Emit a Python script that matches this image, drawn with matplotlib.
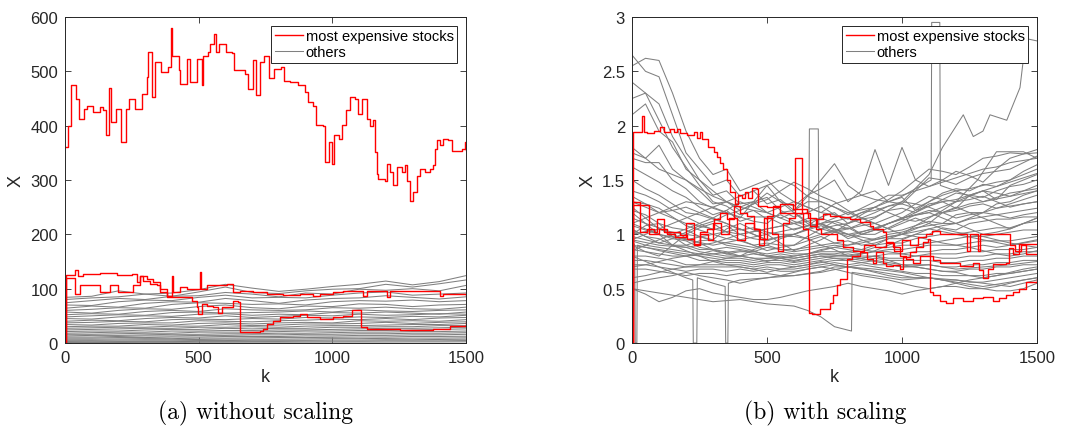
import numpy as np
import matplotlib
matplotlib.use('Agg')
import matplotlib.pyplot as plt

plt.rcParams['font.family'] = ['Liberation Sans', 'DejaVu Sans']

# grids for the grey curves
k_grid = [0, 100, 200, 300, 400, 500, 600, 700, 800, 900, 1000, 1100, 1200, 1300, 1400, 1500]
k_grid50 = [0, 50, 100, 150, 200, 250, 300, 350, 400, 450, 500, 550, 600, 650, 700, 750,
            800, 850, 900, 950, 1000, 1050, 1100, 1150, 1200, 1250, 1300, 1350, 1400, 1450, 1500]

# ---------------- (a) without scaling ----------------
a_red1_k = [0, 10, 24, 40, 52, 70, 82, 106, 130, 143, 155, 163, 173, 191, 209, 221, 227, 239,
            263, 287, 306, 309, 324, 336, 360, 384, 396, 402, 426, 432, 457, 469, 493, 511, 517,
            535, 541, 559, 565, 577, 601, 626, 632, 650, 674, 686, 704, 716, 728, 746, 764, 783,
            807, 819, 843, 873, 897, 909, 928, 940, 964, 973, 988, 998, 1006, 1024, 1036, 1052,
            1066, 1085, 1097, 1110, 1128, 1141, 1153, 1160, 1166, 1172, 1197, 1203, 1216, 1228,
            1241, 1259, 1272, 1278, 1291, 1303, 1316, 1328, 1347, 1366, 1378, 1384, 1390, 1403,
            1415, 1434, 1446, 1471, 1484, 1496, 1500]
a_red1_v = [361, 400, 474, 450, 413, 431, 437, 425, 434, 428, 382, 469, 407, 431, 370, 370, 431, 450,
            431, 459, 490, 536, 453, 517, 499, 508, 579, 529, 502, 477, 523, 480, 523, 474, 529,
            536, 551, 569, 536, 551, 536, 533, 502, 502, 496, 468, 520, 456, 517, 529, 487, 505,
            508, 483, 480, 474, 462, 444, 437, 401, 399, 333, 370, 330, 382, 376, 401, 428,
            452, 450, 422, 450, 413, 400, 410, 351, 311, 302, 299, 330, 314, 290,
            324, 314, 327, 299, 262, 277, 308, 320, 314, 320, 327, 357, 373, 364,
            376, 373, 354, 354, 357, 370, 355]

a_red2_k = [0, 3, 37, 50, 69, 131, 193, 249, 268, 281, 293, 318, 343, 355, 380, 399, 405, 430,
            455, 480, 505, 508, 530, 567, 605, 630, 655, 704, 754, 817, 879, 929, 954, 1004,
            1041, 1103, 1116, 1128, 1191, 1203, 1216, 1316, 1391, 1403, 1415, 1500]
a_red2_v = [0, 125, 135, 124, 127, 129, 125, 127, 112, 123, 115, 109, 106, 93, 87, 124, 93, 103,
            100, 100, 130, 100, 106, 106, 109, 93, 95, 93, 90, 88, 90, 87, 90, 93,
            96, 96, 87, 96, 96, 84, 96, 96, 96, 87, 90, 88]

a_red3_k = [0, 3, 37, 56, 106, 131, 168, 200, 231, 256, 281, 305, 330, 355, 380, 405, 455, 474,
            492, 499, 511, 530, 555, 574, 586, 605, 630, 648, 655, 729, 742, 754, 779, 804,
            854, 879, 904, 954, 1004, 1041, 1072, 1103, 1106, 1128, 1253, 1378, 1440, 1500]
a_red3_v = [0, 120, 90, 106, 106, 93, 106, 93, 93, 106, 124, 118, 112, 100, 84, 84, 84, 78,
            66, 53, 72, 69, 66, 56, 66, 66, 78, 75, 20, 23, 26, 35, 41, 47,
            50, 53, 47, 44, 47, 50, 60, 60, 29, 26, 24, 26, 32, 38]

a_grey = [
    [84, 86, 96, 90, 92, 98, 108, 101, 95, 99, 104, 108, 114, 107, 113, 124],
    [80, 83, 85, 90, 86, 94, 103, 93, 91, 96, 99, 100, 108, 103, 109, 116],
    [74, 78, 82, 80, 86, 87, 93, 90, 85, 92, 90, 99, 97, 100, 96, 106],
    [70, 69, 76, 79, 78, 84, 88, 83, 84, 83, 88, 92, 94, 88, 90, 92],
    [64, 68, 66, 73, 76, 75, 82, 78, 73, 79, 82, 83, 87, 84, 81, 85],
    [60, 62, 65, 64, 71, 74, 73, 71, 72, 70, 76, 78, 77, 79, 76, 78],
    [57, 55, 60, 63, 62, 67, 70, 65, 63, 68, 67, 72, 71, 67, 70, 71],
    [52, 54, 53, 58, 60, 58, 63, 61, 60, 61, 65, 64, 66, 63, 62, 66],
    [48, 50, 52, 51, 56, 57, 55, 56, 57, 59, 57, 61, 59, 58, 60, 61],
    [45, 44, 48, 50, 49, 53, 54, 51, 53, 52, 56, 55, 57, 55, 53, 57],
    [40, 42, 41, 45, 47, 46, 50, 47, 49, 51, 50, 53, 51, 52, 54, 53],
    [37, 38, 40, 39, 43, 44, 43, 45, 44, 47, 46, 48, 47, 49, 48, 51],
    [34, 33, 36, 37, 37, 41, 40, 39, 41, 42, 44, 43, 45, 43, 46, 47],
    [30, 31, 31, 34, 33, 36, 37, 35, 37, 38, 37, 41, 40, 41, 40, 43],
    [27, 28, 29, 29, 31, 31, 34, 32, 33, 35, 35, 36, 38, 36, 38, 39],
    [24, 25, 26, 27, 27, 29, 29, 30, 29, 31, 32, 32, 33, 34, 34, 36],
    [21, 22, 22, 24, 25, 25, 27, 26, 27, 27, 29, 29, 30, 30, 32, 32],
    [18, 19, 20, 20, 22, 22, 23, 23, 24, 24, 25, 26, 27, 27, 28, 29],
    [16, 16, 17, 18, 18, 20, 20, 20, 21, 22, 22, 23, 23, 24, 25, 26],
    [13, 14, 14, 15, 16, 16, 17, 17, 18, 18, 19, 20, 20, 21, 21, 22],
    [11, 11, 12, 13, 13, 14, 14, 15, 15, 16, 16, 17, 17, 18, 18, 19],
    [9, 9, 10, 10, 11, 11, 12, 12, 12, 13, 13, 14, 14, 15, 15, 16],
    [7, 7, 7.5, 8, 8, 9, 9, 9.5, 10, 10, 10.5, 11, 11, 12, 12, 12.5],
    [5, 5, 5.5, 6, 6, 6.5, 7, 7, 7, 7.5, 8, 8, 8.5, 9, 9, 9.5],
    [3, 3.5, 3.5, 4, 4, 4.5, 4.5, 5, 5, 5, 5.5, 5.5, 6, 6, 6.5, 7],
    [2, 2, 2.5, 2.5, 2.5, 3, 3, 3, 3, 3.5, 3.5, 3.5, 4, 4, 4, 4.5],
    [1, 1, 1, 1.2, 1.2, 1.3, 1.4, 1.5, 1.5, 1.6, 1.7, 1.8, 1.8, 2, 2, 2.2],
]

# ---------------- (b) with scaling ----------------
b_red1_k = [0, 4, 31, 37, 43, 55, 80, 105, 117, 142, 154, 166, 179, 203, 228, 240, 253, 259,
            283, 302, 314, 327, 336, 351, 363, 382, 394, 407, 419, 431, 443, 462, 468, 499,
            548, 598, 647, 659, 684, 708, 733, 770, 807, 844, 881, 893, 930, 942, 967, 992,
            1016, 1041, 1066, 1115, 1140, 1214, 1263, 1287, 1299, 1318, 1337, 1386, 1398,
            1411, 1435, 1500]
b_red1_v = [0, 1.94, 1.94, 2.09, 1.94, 1.93, 1.95, 1.99, 1.94, 1.97, 1.94, 1.97, 1.93, 1.91, 1.94, 1.89, 1.94, 1.88,
            1.80, 1.76, 1.71, 1.66, 1.60, 1.50, 1.39, 1.28, 1.36, 1.33, 1.39, 1.33, 1.43, 1.42, 1.26, 1.25,
            1.28, 1.23, 1.20, 1.08, 1.14, 1.19, 1.17, 1.16, 1.14, 1.11, 1.08, 1.05, 1.02, 0.93, 0.88, 0.80,
            0.77, 0.74, 0.80, 0.76, 0.74, 0.71, 0.74, 0.67, 0.60, 0.68, 0.73, 0.74, 0.87,
            0.82, 0.91, 0.91]

b_red2_k = [0, 5, 31, 55, 80, 92, 117, 154, 179, 203, 228, 253, 277, 302, 327, 351, 376, 400,
            425, 450, 474, 499, 524, 548, 598, 635, 653, 656, 665, 696, 733, 745, 758, 770,
            795, 813, 844, 869, 893, 905, 930, 942, 967, 992, 1004, 1029, 1053, 1078, 1097,
            1103, 1115, 1140, 1164, 1189, 1226, 1263, 1299, 1337, 1361, 1386, 1411, 1435,
            1460, 1500]
b_red2_v = [0, 1.30, 1.02, 1.05, 1.02, 1.14, 1.02, 1.02, 0.99, 0.96, 0.91, 1.02, 1.05, 1.14, 1.20, 1.14, 1.26, 1.20,
            1.17, 1.05, 0.96, 1.17, 1.26, 1.20, 1.20, 1.05, 0.96, 0.28, 0.27, 0.31, 0.37, 0.44, 0.53, 0.59,
            0.77, 0.80, 0.84, 0.77, 0.74, 0.84, 0.74, 0.71, 0.72, 0.68, 0.79, 0.84, 0.88, 0.93, 0.96,
            0.47, 0.44, 0.39, 0.37, 0.41, 0.39, 0.41, 0.42, 0.39, 0.41, 0.44, 0.47, 0.50,
            0.56, 0.59]

b_red3_k = [0, 4, 60, 62, 100, 130, 160, 200, 230, 250, 280, 300, 330, 360, 390, 420, 450, 470,
            490, 520, 540, 560, 580, 603, 628, 650, 680, 700, 740, 760, 780, 820, 860, 900,
            940, 970, 1000, 1030, 1060, 1090, 1110, 1140, 1200, 1240, 1250, 1280, 1290, 1330,
            1380, 1400, 1420, 1440, 1460, 1500]
b_red3_v = [0, 1.27, 1.27, 1.0, 1.05, 1.0, 0.98, 1.1, 0.9, 1.0, 0.95, 1.1, 1.0, 1.15, 0.95, 1.1, 1.05, 0.9,
            1.15, 1.0, 0.85, 1.1, 1.15, 1.7, 1.2, 1.15, 1.05, 1.0, 1.0, 0.95, 0.88, 0.85, 0.9, 0.88,
            0.92, 0.85, 0.95, 0.9, 0.98, 1.0, 1.03, 1.0, 1.0, 0.85, 1.0, 0.85, 1.0, 1.0,
            1.0, 0.9, 0.85, 0.9, 0.82, 0.82]

# grey curves of panel (b), sampled every 50 steps
b_grey = [
    [2.65, 2.5, 2.45, 2.1, 1.75, 1.6, 1.45, 1.5, 1.35, 1.4, 1.28, 1.32, 1.22, 1.3, 1.3, 1.25, 1.18, 1.24, 1.3, 1.36, 1.36, 1.4, 1.44, 1.5, 1.46, 1.52, 1.56, 1.58, 1.6, 1.66, 1.72],
    [2.55, 2.62, 2.6, 2.3, 1.95, 1.7, 1.55, 1.6, 1.4, 1.45, 1.5, 1.38, 1.3, 1.25, 1.2, 1.28, 1.32, 1.36, 1.4, 1.3, 1.28, 1.4, 1.52, 1.5, 1.58, 1.54, 1.48, 1.6, 1.7, 1.74, 1.78],
    [2.4, 2.3, 2.2, 1.9, 1.7, 1.5, 1.36, 1.4, 1.28, 1.3, 1.34, 1.22, 1.16, 1.2, 1.26, 1.18, 1.14, 1.2, 1.22, 1.26, 1.28, 1.24, 1.3, 1.38, 1.42, 1.4, 1.46, 1.44, 1.5, 1.58, 1.64],
    [2.25, 2.3, 2.05, 1.8, 1.62, 1.45, 1.3, 1.26, 1.18, 1.22, 1.14, 1.18, 1.12, 1.08, 1.16, 1.2, 1.1, 1.14, 1.16, 1.22, 1.24, 1.2, 1.26, 1.3, 1.32, 1.36, 1.34, 1.4, 1.44, 1.46, 1.5],
    [2.1, 2.2, 1.95, 1.85, 1.6, 1.5, 1.4, 1.3, 1.25, 1.3, 1.2, 1.15, 1.2, 1.1, 1.05, 1.12, 1.08, 1.0, 1.04, 1.1, 1.14, 1.2, 1.28, 1.3, 1.24, 1.36, 1.4, 1.32, 1.45, 1.5, 1.55],
    [1.75, 1.7, 1.82, 1.6, 1.5, 1.4, 1.28, 1.3, 1.22, 1.28, 1.38, 1.3, 1.26, 1.36, 1.42, 1.5, 1.3, 1.4, 1.78, 1.45, 1.8, 1.5, 1.44, 1.48, 1.52, 1.56, 1.6, 1.62, 1.66, 1.68, 1.7],
    [1.7, 1.66, 1.66, 1.5, 1.42, 1.3, 1.24, 1.2, 1.16, 1.12, 1.1, 1.2, 1.22, 1.35, 1.5, 1.65, 1.45, 1.36, 1.32, 1.3, 1.34, 1.22, 1.26, 1.32, 1.38, 1.36, 1.4, 1.44, 1.48, 1.52, 1.56],
    [1.62, 1.55, 1.48, 1.4, 1.34, 1.25, 1.18, 1.22, 1.12, 1.16, 1.16, 1.1, 1.04, 1.08, 1.1, 1.04, 1.06, 1.0, 1.0, 1.06, 1.12, 1.18, 1.22, 1.2, 1.24, 1.28, 1.3, 1.34, 1.38, 1.4, 1.42],
    [1.5, 1.42, 1.36, 1.28, 1.2, 1.18, 1.14, 1.1, 1.04, 1.06, 1.02, 1.0, 1.0, 1.04, 1.08, 1.02, 0.98, 1.02, 1.06, 1.1, 1.14, 1.12, 1.16, 1.2, 1.22, 1.26, 1.28, 1.24, 1.28, 1.32, 1.36],
    [1.4, 1.36, 1.3, 1.22, 1.16, 1.1, 1.04, 1.08, 1.0, 0.96, 0.94, 0.98, 0.98, 0.96, 1.0, 1.04, 0.96, 1.0, 1.04, 1.02, 1.04, 1.08, 1.12, 1.1, 1.18, 1.2, 1.2, 1.24, 1.26, 1.28, 1.3],
    [1.3, 1.28, 1.24, 1.16, 1.08, 1.04, 1.0, 0.96, 0.94, 0.9, 0.92, 0.9, 0.9, 0.94, 0.98, 0.92, 0.9, 0.94, 0.96, 1.0, 1.02, 1.06, 1.08, 1.1, 1.1, 1.14, 1.16, 1.18, 1.2, 1.22, 1.24],
    [1.22, 1.18, 1.1, 1.06, 1.04, 0.98, 0.94, 0.92, 0.9, 0.88, 0.9, 0.86, 0.86, 0.88, 0.9, 0.92, 0.94, 0.9, 0.92, 0.96, 0.96, 1.0, 1.0, 1.06, 1.04, 1.1, 1.12, 1.14, 1.14, 1.16, 1.16],
    [1.15, 1.1, 1.06, 0.98, 0.96, 0.92, 0.86, 0.88, 0.86, 0.84, 0.88, 0.86, 0.84, 0.86, 0.88, 0.9, 0.88, 0.86, 0.9, 0.92, 0.92, 0.96, 0.98, 1.0, 1.0, 1.02, 1.04, 1.06, 1.06, 1.1, 1.12],
    [1.08, 1.04, 1.0, 0.96, 0.94, 0.88, 0.86, 0.82, 0.84, 0.84, 0.82, 0.84, 0.82, 0.82, 0.86, 0.88, 0.86, 0.84, 0.88, 0.88, 0.9, 0.9, 0.92, 0.94, 0.96, 0.98, 0.98, 1.0, 1.02, 1.04, 1.04],
    [1.04, 0.98, 0.96, 0.9, 0.9, 0.86, 0.86, 0.84, 0.8, 0.82, 0.8, 0.82, 0.8, 0.82, 0.84, 0.84, 0.84, 0.86, 0.84, 0.86, 0.86, 0.88, 0.9, 0.9, 0.9, 0.92, 0.94, 0.94, 0.94, 0.96, 0.98],
    [0.98, 0.95, 0.92, 0.9, 0.88, 0.84, 0.82, 0.8, 0.8, 0.78, 0.78, 0.8, 0.78, 0.8, 0.82, 0.82, 0.84, 0.82, 0.84, 0.84, 0.82, 0.84, 0.84, 0.86, 0.86, 0.88, 0.9, 0.88, 0.9, 0.92, 0.94],
    [0.94, 0.9, 0.88, 0.86, 0.84, 0.82, 0.8, 0.78, 0.78, 0.76, 0.78, 0.78, 0.76, 0.78, 0.8, 0.8, 0.82, 0.8, 0.8, 0.82, 0.82, 0.8, 0.82, 0.82, 0.82, 0.84, 0.84, 0.86, 0.86, 0.86, 0.88],
    [0.9, 0.88, 0.86, 0.84, 0.82, 0.8, 0.78, 0.76, 0.76, 0.74, 0.76, 0.76, 0.74, 0.76, 0.78, 0.8, 0.8, 0.78, 0.8, 0.78, 0.78, 0.8, 0.8, 0.78, 0.78, 0.8, 0.8, 0.82, 0.82, 0.84, 0.84],
    [0.86, 0.84, 0.82, 0.8, 0.8, 0.76, 0.76, 0.74, 0.74, 0.72, 0.74, 0.74, 0.72, 0.74, 0.76, 0.78, 0.78, 0.76, 0.78, 0.76, 0.76, 0.76, 0.76, 0.74, 0.74, 0.76, 0.76, 0.78, 0.78, 0.8, 0.8],
    [0.8, 0.8, 0.78, 0.76, 0.72, 0.72, 0.72, 0.72, 0.72, 0.7, 0.72, 0.72, 0.7, 0.72, 0.74, 0.76, 0.76, 0.74, 0.76, 0.74, 0.72, 0.72, 0.72, 0.7, 0.7, 0.72, 0.72, 0.74, 0.74, 0.76, 0.76],
    [0.76, 0.76, 0.74, 0.72, 0.7, 0.7, 0.7, 0.7, 0.7, 0.68, 0.7, 0.68, 0.68, 0.7, 0.72, 0.74, 0.72, 0.74, 0.72, 0.72, 0.7, 0.7, 0.68, 0.66, 0.66, 0.68, 0.68, 0.7, 0.7, 0.72, 0.72],
    [0.72, 0.72, 0.7, 0.68, 0.66, 0.68, 0.68, 0.66, 0.68, 0.66, 0.68, 0.66, 0.66, 0.68, 0.7, 0.72, 0.7, 0.72, 0.7, 0.68, 0.66, 0.64, 0.64, 0.62, 0.62, 0.62, 0.62, 0.64, 0.64, 0.66, 0.68],
    [0.68, 0.68, 0.66, 0.64, 0.62, 0.64, 0.64, 0.62, 0.64, 0.64, 0.64, 0.62, 0.62, 0.64, 0.66, 0.7, 0.7, 0.68, 0.66, 0.64, 0.62, 0.6, 0.6, 0.58, 0.58, 0.56, 0.56, 0.58, 0.6, 0.62, 0.64],
    [1.0, 1.08, 1.1, 0.98, 0.9, 0.94, 0.95, 1.05, 1.1, 1.04, 1.0, 0.92, 0.85, 0.9, 0.95, 1.02, 1.1, 1.15, 1.2, 1.26, 1.3, 1.28, 1.25, 1.2, 1.15, 1.18, 1.2, 1.28, 1.3, 1.36, 1.4],
    [0.9, 0.84, 0.8, 0.9, 1.0, 1.06, 1.1, 1.02, 0.95, 0.9, 0.85, 0.88, 0.9, 0.98, 1.05, 1.02, 1.0, 0.95, 0.9, 0.96, 1.0, 1.08, 1.15, 1.22, 1.3, 1.32, 1.35, 1.3, 1.25, 1.28, 1.3],
    [1.2, 1.1, 1.0, 0.9, 0.85, 0.8, 0.75, 0.78, 0.8, 0.86, 0.9, 0.96, 1.0, 0.96, 0.9, 0.86, 0.8, 0.82, 0.85, 0.9, 0.95, 1.0, 1.05, 1.08, 1.1, 1.05, 1.0, 1.02, 1.05, 1.1, 1.15],
    [0.85, 0.9, 0.95, 1.0, 1.05, 1.1, 1.15, 1.1, 1.05, 1.0, 0.95, 0.98, 1.0, 1.05, 1.1, 1.12, 1.15, 1.1, 1.05, 1.1, 1.15, 1.22, 1.3, 1.36, 1.4, 1.42, 1.45, 1.48, 1.5, 1.55, 1.6],
    [1.35, 1.28, 1.2, 1.22, 1.25, 1.2, 1.15, 1.22, 1.3, 1.25, 1.2, 1.15, 1.1, 1.12, 1.15, 1.1, 1.05, 1.08, 1.1, 1.15, 1.2, 1.28, 1.35, 1.32, 1.3, 1.35, 1.4, 1.38, 1.35, 1.4, 1.45],
    [0.7, 0.72, 0.75, 0.78, 0.8, 0.82, 0.85, 0.82, 0.8, 0.78, 0.75, 0.78, 0.8, 0.82, 0.85, 0.88, 0.9, 0.92, 0.95, 0.98, 1.0, 0.98, 0.95, 0.92, 0.9, 0.88, 0.85, 0.82, 0.8, 0.82, 0.85],
    [1.1, 1.15, 1.2, 1.25, 1.3, 1.28, 1.25, 1.2, 1.15, 1.3, 1.45, 1.3, 1.2, 1.12, 1.05, 1.08, 1.1, 1.18, 1.25, 1.2, 1.15, 1.18, 1.2, 1.15, 1.1, 1.15, 1.2, 1.18, 1.15, 1.18, 1.2],
    [1.8, 1.7, 1.6, 1.55, 1.5, 1.42, 1.35, 1.3, 1.25, 1.22, 1.2, 1.25, 1.3, 1.25, 1.2, 1.18, 1.15, 1.2, 1.25, 1.32, 1.4, 1.5, 1.6, 1.58, 1.55, 1.62, 1.7, 1.72, 1.75, 1.74, 1.75],
    [0.6, 0.62, 0.65, 0.68, 0.7, 0.72, 0.75, 0.72, 0.7, 0.68, 0.65, 0.68, 0.7, 0.72, 0.75, 0.72, 0.7, 0.68, 0.65, 0.62, 0.6, 0.6, 0.6, 0.58, 0.55, 0.58, 0.6, 0.62, 0.65, 0.68, 0.7],
    [0.55, 0.58, 0.6, 0.62, 0.65, 0.62, 0.6, 0.58, 0.55, 0.58, 0.6, 0.62, 0.65, 0.68, 0.7, 0.68, 0.65, 0.62, 0.6, 0.58, 0.55, 0.52, 0.5, 0.52, 0.52, 0.5, 0.5, 0.52, 0.55, 0.58, 0.6],
    [0.5, 0.45, 0.38, 0.42, 0.48, 0.5, 0.46, 0.44, 0.42, 0.4, 0.4, 0.42, 0.45, 0.48, 0.5, 0.52, 0.55, 0.52, 0.5, 0.48, 0.45, 0.48, 0.5, 0.52, 0.55, 0.52, 0.5, 0.48, 0.48, 0.5, 0.55],
    [1.25, 1.15, 1.05, 1.1, 1.15, 1.2, 1.25, 1.3, 1.35, 1.4, 1.45, 1.5, 1.45, 1.35, 1.3, 1.25, 1.2, 1.15, 1.1, 1.05, 1.0, 1.05, 1.1, 1.2, 1.25, 1.2, 1.15, 1.1, 1.05, 1.1, 1.15],
    [0.95, 1.0, 1.05, 1.02, 1.0, 0.98, 0.95, 0.9, 0.88, 0.85, 0.8, 0.78, 0.75, 0.78, 0.8, 0.78, 0.76, 0.78, 0.8, 0.76, 0.72, 0.7, 0.68, 0.66, 0.65, 0.62, 0.6, 0.62, 0.64, 0.66, 0.68],
    [1.05, 0.98, 0.92, 0.96, 1.02, 1.08, 1.12, 1.18, 1.22, 1.28, 1.32, 1.4, 1.48, 1.42, 1.35, 1.3, 1.22, 1.15, 1.1, 1.05, 1.1, 1.15, 1.1, 1.05, 1.02, 1.0, 0.98, 0.95, 0.92, 0.9, 0.88],
]

# grey curves that need their own k values (jumps, spikes, drop-outs)
b_grey_extra = [
    ([0, 100, 200, 300, 400, 500, 600, 650, 700, 750, 813, 815, 900, 1000, 1100, 1200, 1300, 1400, 1500],
     [0.5, 0.46, 0.42, 0.38, 0.4, 0.36, 0.34, 0.3, 0.24, 0.15, 0.11, 0.65, 0.62, 0.58, 0.6, 0.56, 0.52, 0.56, 0.6]),
    ([0, 100, 200, 300, 400, 500, 600, 700, 800, 900, 1000, 1100, 1150, 1227, 1264, 1300, 1326, 1388, 1437, 1449, 1462, 1500],
     [1.3, 1.2, 1.1, 1.05, 1.0, 1.05, 1.1, 1.0, 1.05, 1.15, 1.3, 1.55, 1.8, 2.1, 1.9, 1.95, 2.1, 2.05, 2.35, 2.6, 2.8, 2.78]),
    ([0, 100, 200, 300, 400, 500, 600, 700, 800, 900, 1000, 1100, 1200, 1280, 1350, 1450, 1500],
     [1.1, 1.0, 0.95, 1.0, 1.05, 0.95, 1.0, 1.1, 1.0, 1.05, 1.15, 1.2, 1.3, 1.5, 1.76, 1.76, 1.7]),
    ([0, 100, 200, 300, 400, 500, 600, 655, 657, 690, 692, 800, 900, 1000, 1100, 1200, 1300, 1400, 1500],
     [0.95, 0.9, 0.88, 0.92, 1.0, 1.05, 1.1, 1.15, 1.97, 1.97, 1.1, 1.0, 0.95, 1.0, 1.05, 1.0, 0.95, 0.9, 0.95]),
    ([0, 100, 200, 300, 400, 500, 600, 700, 800, 900, 1000, 1108, 1110, 1140, 1142, 1200, 1300, 1400, 1500],
     [1.0, 1.05, 0.95, 0.9, 0.95, 1.0, 1.05, 1.1, 1.2, 1.25, 1.35, 1.5, 2.95, 2.95, 1.45, 1.4, 1.3, 1.35, 1.4]),
    ([0, 10, 12, 18, 20, 100, 200, 300, 400, 500, 600, 700, 800, 900, 1000, 1100, 1200, 1300, 1400, 1500],
     [0.95, 0.9, 0.0, 0.0, 0.9, 0.85, 0.8, 0.82, 0.85, 0.8, 0.78, 0.82, 0.8, 0.75, 0.7, 0.72, 0.68, 0.7, 0.72, 0.75]),
    ([0, 100, 200, 225, 227, 240, 242, 300, 345, 347, 355, 357, 400, 500, 600, 700, 800, 900, 1000, 1100, 1200, 1300, 1400, 1500],
     [0.8, 0.7, 0.6, 0.58, 0.0, 0.0, 0.6, 0.55, 0.52, 0.0, 0.0, 0.55, 0.58, 0.6, 0.62, 0.65, 0.7, 0.68, 0.65, 0.6, 0.58, 0.55, 0.52, 0.58]),
]

x_ticks = [0, 500, 1000, 1500]
a_yticks = [0, 100, 200, 300, 400, 500, 600]
b_yticks = [0, 0.5, 1, 1.5, 2, 2.5, 3]
b_yticklabels = ['0', '0.5', '1', '1.5', '2', '2.5', '3']
captions = ['(a) without scaling', '(b) with scaling']

grey = '#808080'
dark = '#262626'

fig = plt.figure(figsize=(10.73, 4.27), dpi=100)
ax1 = fig.add_axes([65 / 1073, 1 - 344 / 427, 401 / 1073, 326 / 427])
ax2 = fig.add_axes([632 / 1073, 1 - 344 / 427, 405 / 1073, 326 / 427])

# left panel
for i, v in enumerate(a_grey):
    ax1.plot(k_grid, v, color=grey, lw=0.75, label='others' if i == 0 else None)
ax1.plot(a_red1_k, a_red1_v, color='red', lw=1.0, drawstyle='steps-post', label='most expensive stocks')
ax1.plot(a_red2_k, a_red2_v, color='red', lw=1.0, drawstyle='steps-post')
ax1.plot(a_red3_k, a_red3_v, color='red', lw=1.0, drawstyle='steps-post')

# right panel
for i, v in enumerate(b_grey):
    ax2.plot(k_grid50, v, color=grey, lw=0.75, label='others' if i == 0 else None)
for kk, vv in b_grey_extra:
    ax2.plot(kk, vv, color=grey, lw=0.75)
ax2.plot(b_red1_k, b_red1_v, color='red', lw=1.0, drawstyle='steps-post', label='most expensive stocks')
ax2.plot(b_red2_k, b_red2_v, color='red', lw=1.0, drawstyle='steps-post')
ax2.plot(b_red3_k, b_red3_v, color='red', lw=1.0, drawstyle='steps-post')

ax1.set_ylim(0, 600)
ax1.set_yticks(a_yticks)
ax2.set_ylim(0, 3)
ax2.set_yticks(b_yticks)
ax2.set_yticklabels(b_yticklabels)

for ax, cap, cx in [(ax1, captions[0], 256), (ax2, captions[1], 825)]:
    ax.set_xlim(0, 1500)
    ax.set_xticks(x_ticks)
    ax.tick_params(direction='in', top=True, right=True, length=4, width=0.6,
                   labelsize=12, colors=dark, pad=5)
    for s in ax.spines.values():
        s.set_color(dark)
        s.set_linewidth(0.7)
    ax.set_xlabel('k', fontsize=13, color=dark, labelpad=2)
    ax.set_ylabel('X', fontsize=13, color=dark, labelpad=4)
    handles, labels = ax.get_legend_handles_labels()
    order = [labels.index('most expensive stocks'), labels.index('others')]
    leg = ax.legend([handles[j] for j in order], [labels[j] for j in order],
                    loc='upper right', fontsize=10.5, frameon=True, fancybox=False,
                    framealpha=1, edgecolor=dark, borderpad=0.25, labelspacing=0.1,
                    handlelength=1.9, handletextpad=0.2, borderaxespad=0.6)
    leg.get_frame().set_linewidth(0.7)
    fig.text(cx / 1073, 1 - 413 / 427, cap, ha='center', va='center',
             fontsize=17, family='cmr10', color='black')

plt.savefig('out.png', dpi=100)
